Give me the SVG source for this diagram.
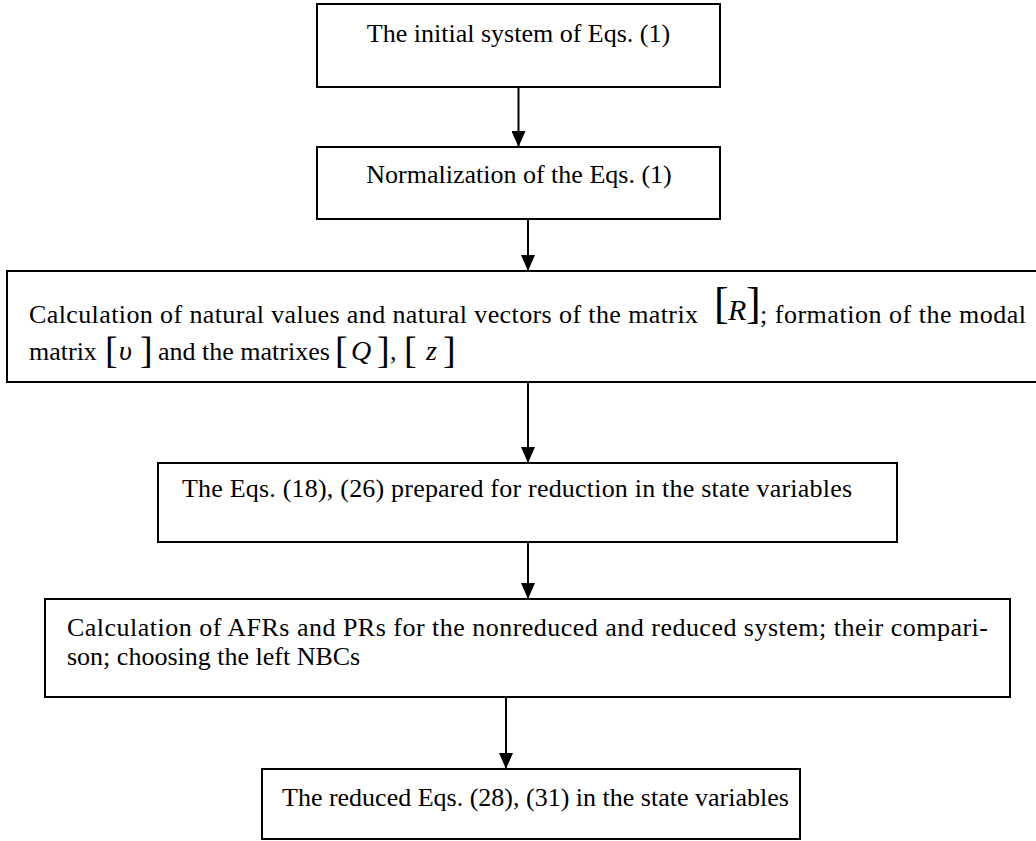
<svg xmlns="http://www.w3.org/2000/svg" width="1036" height="841" viewBox="0 0 1036 841">
<defs>
<style>
.box{fill:#fff;stroke:#000;stroke-width:2}
.t{font-family:"Liberation Serif","Times New Roman",serif;font-size:26px;fill:#000}
.br{font-family:"Liberation Serif","Times New Roman",serif;fill:#000}
.it{font-family:"Liberation Serif","Times New Roman",serif;font-style:italic;fill:#000}
.c{stroke:#000;stroke-width:2;fill:none;marker-end:url(#ah)}
</style>
<marker id="ah" markerUnits="userSpaceOnUse" markerWidth="14" markerHeight="16" refX="7" refY="16" orient="0" viewBox="0 0 14 16">
<path d="M0,0 L14,0 L7,16 z" fill="#000"/>
</marker>
</defs>
<rect width="1036" height="841" fill="#fff"/>
<g id="connectors">
<path class="c" d="M518.5,87 V147"/>
<path class="c" d="M528,219 V271"/>
<path class="c" d="M528,382 V463"/>
<path class="c" d="M528,542 V599"/>
<path class="c" d="M506,697 V769"/>
</g>
<g id="n1">
<rect class="box" x="317" y="4" width="403" height="83"/>
<text class="t" x="518.5" y="42" text-anchor="middle">The initial system of Eqs. (1)</text>
</g>
<g id="n2">
<rect class="box" x="317" y="147" width="403" height="72"/>
<text class="t" x="519" y="183" text-anchor="middle">Normalization of the Eqs. (1)</text>
</g>
<g id="n3">
<rect class="box" x="7" y="271" width="1040" height="111"/>
<text class="t" x="29" y="323" textLength="669" lengthAdjust="spacing">Calculation of natural values and natural vectors of the matrix</text>
<text class="br" x="714" y="318" font-size="44">[</text>
<text class="it" x="728" y="320" font-size="30">R</text>
<text class="br" x="746" y="318" font-size="44">]</text>
<text class="t" x="760" y="323" textLength="266" lengthAdjust="spacing">; formation of the modal</text>
<text class="t" x="29" y="360">matrix</text>
<text class="br" x="105" y="363" font-size="38">[</text>
<text class="it" x="119" y="360" font-size="28">υ</text>
<text class="br" x="140" y="363" font-size="38">]</text>
<text class="t" x="158" y="360">and the matrixes</text>
<text class="br" x="335" y="363" font-size="38">[</text>
<text class="it" x="351" y="360" font-size="28">Q</text>
<text class="br" x="377" y="363" font-size="38">]</text>
<text class="t" x="390" y="360">,</text>
<text class="br" x="404" y="363" font-size="38">[</text>
<text class="it" x="426" y="360" font-size="28">z</text>
<text class="br" x="443" y="363" font-size="38">]</text>
</g>
<g id="n4">
<rect class="box" x="158" y="463" width="739" height="79"/>
<text class="t" x="182" y="497" textLength="670" lengthAdjust="spacing">The Eqs. (18), (26) prepared for reduction in the state variables</text>
</g>
<g id="n5">
<rect class="box" x="45" y="599" width="965" height="98"/>
<text class="t" x="67" y="636" textLength="921" lengthAdjust="spacing">Calculation of AFRs and PRs for the nonreduced and reduced system; their compari-</text>
<text class="t" x="67" y="665">son; choosing the left NBCs</text>
</g>
<g id="n6">
<rect class="box" x="262" y="769" width="538" height="70"/>
<text class="t" x="282" y="806">The reduced Eqs. (28), (31) in the state variables</text>
</g>
</svg>
